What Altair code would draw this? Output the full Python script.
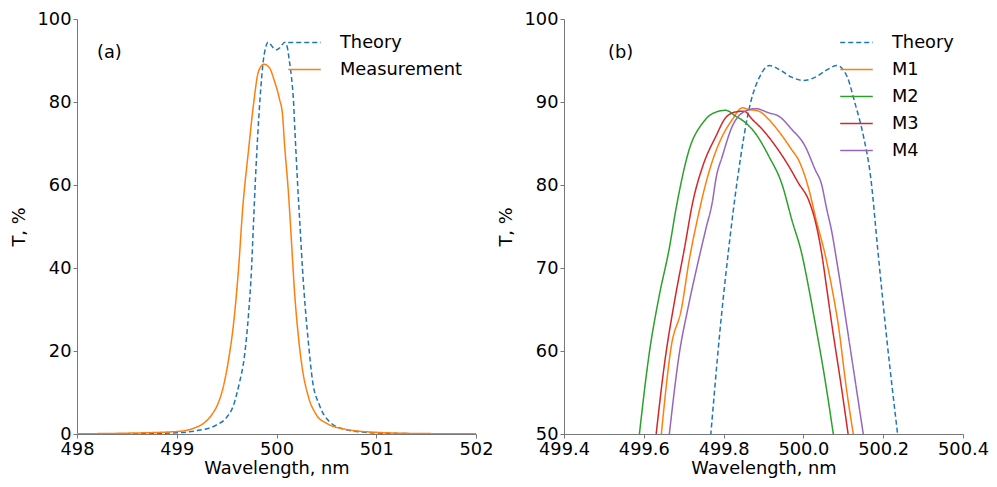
import altair as alt
import pandas as pd

# ---------------- data ----------------
theory_wl = [498.0, 498.5, 499.0, 499.2, 499.4, 499.5, 499.57, 499.6, 499.63, 499.68, 499.72,
             499.75, 499.768, 499.79, 499.813, 499.835, 499.868, 499.89, 499.915, 499.94,
             499.97, 500.0, 500.03, 500.06, 500.084, 500.11, 500.129, 500.15, 500.169,
             500.186, 500.21, 500.236, 500.26, 500.29, 500.32, 500.36, 500.43, 500.53,
             500.7, 501.0, 501.5, 502.0]
theory_t = [0.0, 0.03, 0.3, 0.8, 2.2, 4.0, 7.0, 9.5, 12.5, 19.0, 29.0,
            40.0, 50.0, 62.0, 72.4, 80.8, 90.0, 93.0, 94.4, 93.9,
            93.0, 92.6, 93.0, 93.9, 94.4, 93.0, 89.9, 86.0, 80.8,
            72.4, 61.0, 50.0, 40.0, 30.0, 22.0, 13.0, 7.0, 3.0,
            1.0, 0.25, 0.05, 0.0]

meas_wl = [498.0, 498.5, 499.0, 499.17, 499.27, 499.35, 499.42, 499.47, 499.52, 499.57,
           499.62, 499.66, 499.72, 499.77, 499.82, 499.874, 499.93, 499.98, 500.03,
           500.06, 500.08, 500.12, 500.15, 500.18, 500.216, 500.26, 500.316, 500.4,
           500.5, 500.66, 501.0, 501.5, 502.0]
meas_t = [0.05, 0.2, 0.6, 1.4, 2.6, 4.6, 7.7, 11.7, 18.0, 26.7,
          40.0, 54.0, 68.5, 79.5, 87.4, 89.1, 88.2, 85.0, 80.7,
          77.0, 70.0, 58.0, 46.4, 34.5, 24.3, 15.6, 9.3, 4.6,
          2.6, 1.3, 0.4, 0.1, 0.05]

m1_wl = [499.644, 499.669, 499.694, 499.714, 499.735, 499.756, 499.78, 499.797, 499.822,
         499.847, 499.863, 499.888, 499.913, 499.947, 499.97, 499.988, 500.013, 500.033,
         500.054, 500.071, 500.087, 500.108, 500.125]
m1_t = [50.0, 60.6, 65.0, 71.0, 76.0, 80.3, 84.0, 85.9, 87.9,
        89.3, 89.1, 88.9, 87.9, 85.9, 84.3, 83.0, 79.6, 75.6,
        71.7, 67.7, 63.3, 55.4, 50.0]

m2_wl = [499.589, 499.613, 499.638, 499.664, 499.681, 499.714, 499.748, 499.772, 499.805,
         499.83, 499.855, 499.88, 499.913, 499.947, 499.971, 499.996, 500.013, 500.029,
         500.054, 500.075]
m2_t = [50.0, 59.5, 66.5, 72.4, 77.2, 84.3, 87.5, 88.6, 89.0,
        88.3, 87.5, 86.2, 83.5, 80.0, 75.8, 71.7, 67.7, 63.5,
        56.6, 50.0]

m3_wl = [499.631, 499.652, 499.677, 499.702, 499.723, 499.748, 499.781, 499.805, 499.83,
         499.851, 499.872, 499.897, 499.93, 499.963, 499.988, 500.013, 500.03, 500.046,
         500.058, 500.071, 500.096, 500.112]
m3_t = [50.0, 58.5, 66.0, 72.4, 78.0, 82.3, 85.9, 88.1, 88.8,
        88.9, 87.9, 86.7, 84.7, 82.3, 80.2, 78.2, 75.6, 71.7,
        67.7, 63.3, 55.4, 50.0]

m4_wl = [499.664, 499.69, 499.71, 499.735, 499.756, 499.772, 499.781,
         499.797, 499.822, 499.847, 499.88, 499.913, 499.938, 499.971, 500.004, 500.029,
         500.046, 500.058, 500.071, 500.083, 500.094, 500.108, 500.133, 500.15]
m4_t = [50.0, 60.0, 65.0, 70.5, 74.8, 78.0, 80.8,
        83.5, 87.1, 88.7, 89.2, 88.7, 88.3, 86.7, 84.7, 81.9,
        80.0, 77.2, 74.4, 71.0, 67.7, 63.3, 55.4, 50.0]

left_series = ["Theory", "Measurement"]
right_series = ["Theory", "M1", "M2", "M3", "M4"]
left_x_ticks = [498, 499, 500, 501, 502]
left_y_ticks = [0, 20, 40, 60, 80, 100]
right_x_ticks = [499.4, 499.6, 499.8, 500.0, 500.2, 500.4]
right_y_ticks = [50, 60, 70, 80, 90, 100]
panel_labels = ["(a)", "(b)"]

BLUE, ORANGE, GREEN, RED, PURPLE = "#1f77b4", "#ff7f0e", "#2ca02c", "#d62728", "#9467bd"
FONT = "DejaVu Sans"
FS = 17.8
DASH = [5, 3]
SOLID = [1, 0]


def frame(name, wl, t):
    return pd.DataFrame({"wl": wl, "T": t, "series": name, "order": range(len(wl))})


left_df = pd.concat([frame("Theory", theory_wl, theory_t),
                     frame("Measurement", meas_wl, meas_t)])
right_df = pd.concat([frame("Theory", theory_wl, theory_t),
                      frame("M1", m1_wl, m1_t), frame("M2", m2_wl, m2_t),
                      frame("M3", m3_wl, m3_t), frame("M4", m4_wl, m4_t)])

axis_common = dict(grid=False, domainColor="#777", tickColor="#777", tickSize=4,
                   labelFont=FONT, labelFontSize=FS, labelColor="black",
                   titleFont=FONT, titleFontSize=FS, titleColor="black",
                   titleFontWeight="normal", labelFlush=False, labelOverlap=False,
                   labelPadding=2)

legend_common = dict(title=None, orient="none", symbolType="stroke", symbolSize=1060,
                     symbolStrokeWidth=1.5, labelFont=FONT, labelFontSize=FS,
                     labelColor="black", labelOffset=18, rowPadding=0, padding=0)


def panel(df, series, colors, dashes, xdom, xticks, xfmt, ydom, yticks, legx, legy, label, labx):
    lines = alt.Chart(df).mark_line(strokeWidth=1.5, clip=True, interpolate="monotone").encode(
        x=alt.X("wl:Q", scale=alt.Scale(domain=xdom, nice=False, zero=False),
                axis=alt.Axis(values=xticks, format=xfmt, title="Wavelength, nm",
                              titlePadding=2, **axis_common)),
        y=alt.Y("T:Q", scale=alt.Scale(domain=ydom, nice=False, zero=False),
                axis=alt.Axis(values=yticks, format="d", title="T, %",
                              titlePadding=9, **axis_common)),
        color=alt.Color("series:N", scale=alt.Scale(domain=series, range=colors),
                        legend=alt.Legend(legendX=legx, legendY=legy, **legend_common)),
        strokeDash=alt.StrokeDash("series:N", scale=alt.Scale(domain=series, range=dashes),
                                  legend=alt.Legend(legendX=legx, legendY=legy, **legend_common)),
        order="order:Q",
    )
    txt = alt.Chart(pd.DataFrame({"label": [label]})).mark_text(
        align="left", baseline="middle", font=FONT, fontSize=FS, color="black"
    ).encode(x=alt.value(labx), y=alt.value(34), text="label:N")
    return alt.layer(lines, txt)


left = panel(left_df, left_series, [BLUE, ORANGE], [DASH, SOLID],
             [498, 502], left_x_ticks, "d", [0, 100], left_y_ticks,
             210, 6, panel_labels[0], 20).properties(width=399, height=415)
right = panel(right_df, right_series, [BLUE, ORANGE, GREEN, RED, PURPLE],
              [DASH, SOLID, SOLID, SOLID, SOLID],
              [499.4, 500.4], right_x_ticks, ".1f", [50, 100], right_y_ticks,
              275, 6, panel_labels[1], 44).properties(width=399, height=415)

chart = alt.hconcat(left, right, spacing=4).resolve_scale(
    color="independent", strokeDash="independent", x="independent", y="independent"
).properties(padding={"left": 2, "top": 2, "right": 0, "bottom": 0}).configure_view(
    strokeWidth=0
).configure_axis(domainWidth=1, tickWidth=1)

chart.save("out.html", embed_options={"renderer": "svg", "actions": False})
